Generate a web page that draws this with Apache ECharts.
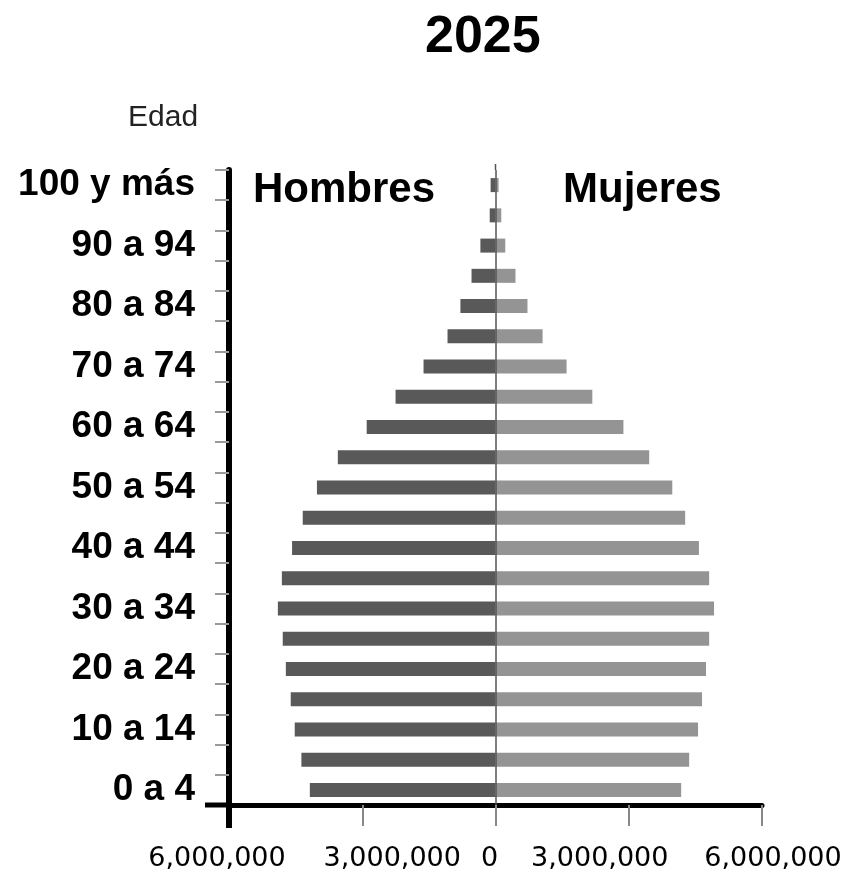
<!DOCTYPE html>
<html>
<head>
<meta charset="utf-8">
<script src="https://cdn.jsdelivr.net/npm/echarts/dist/echarts.min.js"></script>
<style>
	html, body { margin: 0; padding: 0; background: #fff; }
	#main { width: 846px; height: 873px; }
</style>
</head>
<body>
<div id="main"></div>
<script>
// grupos de edad, de abajo hacia arriba
var edades = ['0 a 4', '5 a 9', '10 a 14', '15 a 19', '20 a 24', '25 a 29', '30 a 34', '35 a 39', '40 a 44', '45 a 49',
	'50 a 54', '55 a 59', '60 a 64', '65 a 69', '70 a 74', '75 a 79', '80 a 84', '85 a 89', '90 a 94', '95 a 99', '100 y más'];
var hombres = [4180000, 4370000, 4520000, 4610000, 4720000, 4790000, 4900000, 4810000, 4580000, 4340000,
	4020000, 3550000, 2900000, 2250000, 1620000, 1080000, 790000, 540000, 340000, 130000, 110000];
var mujeres = [4180000, 4360000, 4560000, 4650000, 4740000, 4810000, 4920000, 4810000, 4580000, 4270000,
	3980000, 3460000, 2880000, 2180000, 1600000, 1060000, 720000, 450000, 220000, 130000, 70000];
var xTicks = [-6000000, -3000000, 0, 3000000, 6000000];
var xTickLabels = ['6,000,000', '3,000,000', '0', '3,000,000', '6,000,000'];

var gridLeft = 229, gridRight = 84, gridTop = 170, gridBottom = 68;
var W = 846, H = 873;

var myChart = echarts.init(document.getElementById('main'));

var xFont = { fontFamily: 'DejaVu Sans', fontSize: 27, color: '#000' };
var rich = {
	p0: Object.assign({ padding: [0, 24, 0, 0] }, xFont),
	p1: Object.assign({ padding: [0, 0, 0, 60] }, xFont),
	p2: Object.assign({ padding: [0, 12, 0, 0] }, xFont),
	p3: Object.assign({ padding: [0, 58, 0, 0] }, xFont),
	p4: Object.assign({ padding: [0, 0, 0, 22] }, xFont)
};

var option = {
	backgroundColor: '#fff',
	animation: false,
	title: [{
		text: '2025', left: 425, top: 12, padding: 0,
		textStyle: { fontFamily: 'Liberation Sans', fontWeight: 'bold', fontSize: 52, color: '#000' }
	}, {
		text: 'Hombres', left: 253, top: 169, padding: 0,
		textStyle: { fontFamily: 'Liberation Sans', fontWeight: 'bold', fontSize: 42, color: '#000' }
	}, {
		text: 'Mujeres', left: 563, top: 169, padding: 0,
		textStyle: { fontFamily: 'Liberation Sans', fontWeight: 'bold', fontSize: 42, color: '#000' }
	}, {
		text: 'Edad', left: 128, top: 103, padding: 0,
		textStyle: { fontFamily: 'Liberation Sans', fontWeight: 'normal', fontSize: 30, color: '#222' }
	}],
	grid: { left: gridLeft, right: gridRight, top: gridTop, bottom: gridBottom },
	xAxis: {
		type: 'value',
		min: -6000000,
		max: 6000000,
		interval: 3000000,
		splitLine: { show: false },
		axisLine: { show: true, lineStyle: { color: '#000', width: 5 } },
		axisTick: { show: true, length: 21, lineStyle: { color: '#888', width: 2 } },
		axisLabel: {
			margin: 40,
			formatter: function(v) {
				var i = xTicks.indexOf(v);
				return i < 0 ? '' : '{p' + i + '|' + xTickLabels[i] + '}';
			},
			rich: rich
		}
	},
	yAxis: {
		type: 'category',
		data: edades,
		axisLine: { show: true, onZero: false, lineStyle: { color: '#000', width: 6 } },
		axisTick: { show: true, interval: 0, length: 14, lineStyle: { color: '#999', width: 2 } },
		axisLabel: {
			interval: 1,
			margin: 34,
			fontFamily: 'Liberation Sans',
			fontWeight: 'bold',
			fontSize: 37,
			color: '#000'
		},
		splitLine: { show: false }
	},
	series: [{
		name: 'Hombres',
		type: 'bar',
		barWidth: 14,
		barGap: '-100%',
		itemStyle: { color: '#595959' },
		data: hombres.map(function(v) { return -v; }),
		markLine: {
			silent: true,
			symbol: 'none',
			label: { show: false },
			lineStyle: { color: '#555', width: 1.5, type: 'solid' },
			data: [{ xAxis: 0 }]
		}
	}, {
		name: 'Mujeres',
		type: 'bar',
		barWidth: 14,
		barGap: '-100%',
		itemStyle: { color: '#949494' },
		data: mujeres
	}]
};
myChart.setOption(option);

// prolongaciones de los ejes (izquierda del eje x, bajo el eje y, y la línea del cero arriba)
var x0 = myChart.convertToPixel({ xAxisIndex: 0 }, -6000000);
var xCero = myChart.convertToPixel({ xAxisIndex: 0 }, 0);
var yAxisBottom = H - gridBottom;
myChart.setOption({
	graphic: [{
		type: 'line',
		z: 100,
		shape: { x1: 205, y1: yAxisBottom, x2: x0, y2: yAxisBottom },
		style: { stroke: '#000', lineWidth: 5 }
	}, {
		type: 'line',
		z: 100,
		shape: { x1: x0, y1: yAxisBottom, x2: x0, y2: yAxisBottom + 23 },
		style: { stroke: '#000', lineWidth: 6 }
	}, {
		type: 'line',
		z: 100,
		shape: { x1: xCero, y1: gridTop - 6, x2: xCero, y2: gridTop },
		style: { stroke: '#555', lineWidth: 1.5 }
	}]
});
</script>
</body>
</html>
